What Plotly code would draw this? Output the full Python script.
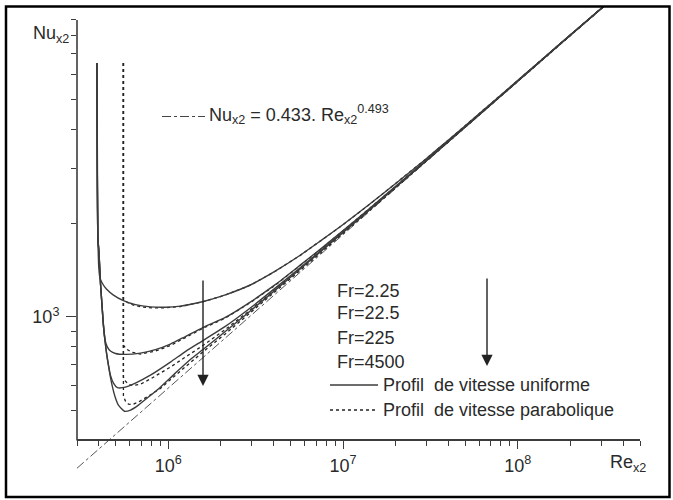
import math
import plotly.graph_objects as go

# ---------------- data ----------------
# shared Re grid for the rising (right) part of every curve
re_right = [1.585e6, 2.117e6, 2.942e6, 4.087e6, 5.68e6, 7.39e6, 1e7, 1.427e7, 2.117e7, 2.942e7,
            4.087e7, 6.07e7, 1.027e8, 1.738e8, 3.2e8]

# solid curves : "Profil de vitesse uniforme"
re_u1_left = [3.90e5, 3.93e5, 3.955e5, 4.0e5, 4.06e5, 4.18e5, 4.42e5, 4.85e5, 5.53e5, 6.48e5, 7.89e5,
              9.61e5, 1.171e6]
nu_u1_left = [6544, 2751, 1765, 1434, 1332, 1284, 1228, 1174, 1127, 1094, 1076, 1073, 1082]
nu_u1_right = [1120, 1176, 1265, 1402, 1577, 1750, 1979, 2307, 2751, 3198, 3734, 4513, 5827, 7533, 10100]

re_u2_left = [3.90e5, 3.955e5, 4.0e5, 4.087e5, 4.17e5, 4.25e5, 4.337e5, 4.48e5, 4.66e5, 4.98e5, 5.68e5,
              6.92e5, 8.43e5, 1.027e6, 1.251e6]
nu_u2_left = [6544, 1765, 1639, 1284, 1091, 940, 842, 799, 776, 762, 757, 764, 784, 817, 864]
nu_u2_right = [925, 995, 1115, 1268, 1465, 1647, 1893, 2236, 2700, 3161, 3707, 4493, 5810, 7521, 10100]

re_u3_left = [3.90e5, 3.955e5, 4.0e5, 4.087e5, 4.17e5, 4.25e5, 4.337e5, 4.42e5, 4.54e5, 4.66e5, 4.85e5,
              5.11e5, 5.68e5, 6.48e5, 7.89e5, 1.027e6, 1.251e6]
nu_u3_left = [6544, 1765, 1639, 1284, 1091, 940, 842, 770, 699, 649, 612, 592, 594, 612, 649, 715, 773]
nu_u3_right = [840, 931, 1067, 1236, 1438, 1624, 1872, 2220, 2685, 3149, 3696, 4483, 5798, 7516, 10100]

re_u4_left = [3.90e5, 3.955e5, 4.0e5, 4.087e5, 4.17e5, 4.25e5, 4.337e5, 4.42e5, 4.54e5, 4.66e5, 4.79e5,
              4.98e5, 5.18e5, 5.61e5, 6.07e5, 6.74e5, 7.69e5, 9.0e5, 1.096e6, 1.336e6]
nu_u4_left = [6544, 1765, 1639, 1284, 1091, 940, 842, 770, 699, 640, 594,
              548, 520, 497, 501, 520, 552, 594, 659, 729]
nu_u4_right = [786, 897, 1043, 1218, 1424, 1614, 1866, 2213, 2681, 3145, 3693, 4480, 5796, 7514, 10100]

# dotted curves : "Profil de vitesse parabolique"
re_p1_left = [5.53e5, 5.53e5, 5.83e5, 6.31e5, 7.10e5, 8.10e5, 9.61e5, 1.171e6]
nu_p1_left = [6544, 1136, 1111, 1090, 1074, 1068, 1068, 1079]
nu_p1_right = [1118, 1174, 1263, 1400, 1575, 1748, 1977, 2305, 2750, 3197, 3733, 4512, 5826, 7532, 10100]

re_p2_left = [5.53e5, 5.53e5, 5.75e5, 6.15e5, 6.92e5, 8.43e5, 1.027e6, 1.251e6]
nu_p2_left = [6544, 811, 787, 770, 759, 776, 808, 858]
nu_p2_right = [920, 990, 1110, 1263, 1460, 1642, 1890, 2233, 2698, 3159, 3705, 4492, 5808, 7520, 10100]

re_p3_left = [5.53e5, 5.53e5, 5.68e5, 5.91e5, 6.23e5, 6.92e5, 7.89e5, 1.027e6, 1.251e6]
nu_p3_left = [6544, 640, 621, 607, 601, 607, 631, 689, 742]
nu_p3_right = [810, 910, 1051, 1223, 1427, 1616, 1866, 2213, 2681, 3145, 3693, 4480, 5796, 7515, 10100]

re_p4_left = [5.53e5, 5.53e5, 5.68e5, 5.91e5, 6.23e5, 6.74e5, 7.69e5, 9.0e5, 1.096e6, 1.336e6]
nu_p4_left = [6544, 556, 536, 524, 522, 532, 556, 588, 648, 714]
nu_p4_right = [773, 881, 1028, 1203, 1409, 1600, 1851, 2202, 2671, 3138, 3686, 4476, 5794, 7514, 10100]

# correlation line  Nu = 0.433 Re^0.493 (as drawn)
re_corr = [3.0e5, 3.2e8]
nu_corr = [326, 10150]

fr_labels = ["Fr=2.25", "Fr=22.5", "Fr=225", "Fr=4500"]
legend_solid = "Profil\u00a0 de vitesse uniforme"
legend_dotted = "Profil\u00a0 de vitesse parabolique"

x_major = [1e6, 1e7, 1e8]
x_major_text = ["10<sup>6</sup>", "10<sup>7</sup>", "10<sup>8</sup>"]
x_minor = [3e5, 4e5, 5e5, 6e5, 7e5, 8e5, 9e5,
           2e6, 3e6, 4e6, 5e6, 6e6, 7e6, 8e6, 9e6,
           2e7, 3e7, 4e7, 5e7, 6e7, 7e7, 8e7, 9e7,
           2e8, 3e8, 4e8, 5e8]
y_major = [1e3]
y_major_text = ["10<sup>3</sup>"]
y_minor = [500, 600, 700, 800, 900, 2000, 3000, 4000, 5000, 6000, 7000, 8000, 9000]

# ---------------- figure ----------------
FONT = "Liberation Sans, Arial, sans-serif"
INK = "#2a2a2a"
LINE = "#3c3c3c"

fig = go.Figure()

fig.add_trace(go.Scatter(x=re_corr, y=nu_corr, mode="lines",
                         line=dict(color="#555555", width=1, dash="dashdot"), hoverinfo="skip"))

dotted = [(re_p1_left, nu_p1_left, nu_p1_right), (re_p2_left, nu_p2_left, nu_p2_right),
          (re_p3_left, nu_p3_left, nu_p3_right), (re_p4_left, nu_p4_left, nu_p4_right)]
for rl, nl, nr in dotted:
    fig.add_trace(go.Scatter(x=rl + re_right, y=nl + nr, mode="lines",
                             line=dict(color="#222222", width=1.3, dash="dot"), hoverinfo="skip"))

solid = [(re_u1_left, nu_u1_left, nu_u1_right), (re_u2_left, nu_u2_left, nu_u2_right),
         (re_u3_left, nu_u3_left, nu_u3_right), (re_u4_left, nu_u4_left, nu_u4_right)]
for rl, nl, nr in solid:
    fig.add_trace(go.Scatter(x=rl + re_right, y=nl + nr, mode="lines", line_shape="spline",
                             line=dict(color=LINE, width=1.4, smoothing=0.6), hoverinfo="skip"))

ML, MR, MT, MB = 77, 33, 7, 28
W, H = 673, 500
PW, PH = W - ML - MR, H - MT - MB


def px(xp):
    return (xp - ML) / PW


def py(yp):
    return (H - MB - yp) / PH


fig.update_layout(
    width=W, height=H,
    margin=dict(l=ML, r=MR, t=MT, b=MB, pad=0),
    paper_bgcolor="white", plot_bgcolor="white",
    showlegend=False,
    font=dict(family=FONT, color=INK, size=18),
    xaxis=dict(
        type="log", range=[math.log10(3e5), math.log10(5e8)],
        showgrid=False, zeroline=False,
        anchor="free", position=py(440.4),
        showline=True, linecolor=LINE, linewidth=1.6,
        tickmode="array", tickvals=x_major, ticktext=x_major_text,
        ticks="outside", ticklen=8, tickwidth=1.3, tickcolor=LINE,
        tickfont=dict(size=18, color=INK, family=FONT),
        ticklabelstandoff=1,
        minor=dict(tickmode="array", tickvals=x_minor, ticks="outside",
                   ticklen=5, tickwidth=1.2, tickcolor=LINE, showgrid=False),
    ),
    yaxis=dict(
        type="log", range=[math.log10(317), math.log10(9900)],
        domain=[0, 1],
        showgrid=False, zeroline=False, showline=False,
        tickmode="array", tickvals=y_major, ticktext=y_major_text,
        ticks="outside", ticklen=10, tickwidth=1.3, tickcolor=LINE,
        tickfont=dict(size=18, color=INK, family=FONT),
        ticklabelstandoff=3,
        minor=dict(tickmode="array", tickvals=y_minor, ticks="outside",
                   ticklen=5, tickwidth=1.2, tickcolor=LINE, showgrid=False),
    ),
)

shapes = []
# y axis line (from Nu=400 to Nu=9000)
shapes.append(dict(type="line", xref="paper", yref="paper", x0=0, x1=0,
                   y0=py(440.4), y1=py(20), line=dict(color=LINE, width=1.6)))
# outer frame
shapes.append(dict(type="rect", xref="paper", yref="paper",
                   x0=px(6), x1=px(669.5), y0=py(497), y1=py(6.5),
                   line=dict(color="black", width=2.5)))
# legend swatches
shapes.append(dict(type="line", xref="paper", yref="paper", x0=px(330), x1=px(378),
                   y0=py(385), y1=py(385), line=dict(color=LINE, width=1.4)))
shapes.append(dict(type="line", xref="paper", yref="paper", x0=px(330), x1=px(378),
                   y0=py(410), y1=py(410), line=dict(color="#222222", width=1.4, dash="dot")))
shapes.append(dict(type="line", xref="paper", yref="paper", x0=px(162), x1=px(205),
                   y0=py(116.5), y1=py(116.5), line=dict(color="#444444", width=1, dash="dashdot")))
fig.update_layout(shapes=shapes)

ann = []


def text(t, xp, yp, xanchor="left", size=18):
    ann.append(dict(text=t, x=px(xp), y=py(yp), xref="paper", yref="paper",
                    xanchor=xanchor, yanchor="middle", showarrow=False,
                    font=dict(size=size, color=INK, family=FONT)))


text("Nu<sub>x2</sub>", 71, 35, xanchor="right", size=18)
text("Re<sub>x2</sub>", 608, 463, size=18)
text("Nu<sub>x2</sub> = 0.433. Re<sub>x2</sub><sup>0.493</sup>", 207, 114, size=18)
for lab, yp in zip(fr_labels, [290.5, 313, 337.5, 361.5]):
    text(lab, 335, yp, size=18)
text(legend_solid, 381, 385, size=18)
text(legend_dotted, 381, 410, size=18)

# arrows
for xt, yt, ytail in [(203, 386, 279), (487, 366, 277)]:
    ann.append(dict(x=px(xt), y=py(yt), xref="paper", yref="paper", text="",
                    showarrow=True, arrowhead=2, arrowsize=1.6, arrowwidth=1.4,
                    arrowcolor="#222222", ax=0, ay=ytail - yt, axref="pixel", ayref="pixel"))

fig.update_layout(annotations=ann)

fig.write_html("out.html")
